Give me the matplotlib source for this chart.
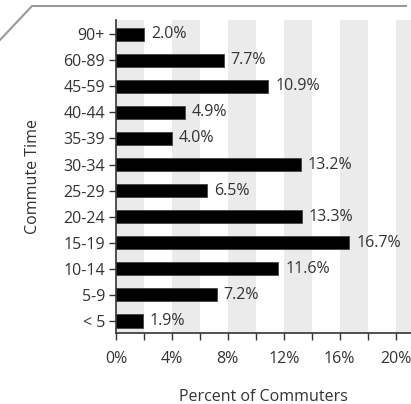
import matplotlib
matplotlib.use("Agg")
import matplotlib.pyplot as plt
from matplotlib.lines import Line2D

plt.rcParams["font.family"] = ["Open Sans", "DejaVu Sans"]

categories = ["< 5", "5-9", "10-14", "15-19", "20-24", "25-29",
              "30-34", "35-39", "40-44", "45-59", "60-89", "90+"]
percents = [1.9, 7.2, 11.6, 16.7, 13.3, 6.5, 13.2, 4.0, 4.9, 10.9, 7.7, 2.0]
x_ticks = [0, 4, 8, 12, 16, 20]

text_color = "#333333"
fs = 11.5

fig = plt.figure(figsize=(4.11, 4.04), dpi=100)
ax = fig.add_axes([116 / 411, 71 / 404, 295 / 411, 313 / 404])

# alternating background bands every 2%
for start in range(0, 22, 4):
    ax.axvspan(start, start + 2, color="#ebebeb", lw=0, zorder=0)

y = range(len(categories))
ax.barh(y, percents, height=0.5, color="black", edgecolor="#444444",
        linewidth=0.6, zorder=2)
for i, v in enumerate(percents):
    ax.annotate(f"{v:.1f}%", (v, i), xytext=(5, 0), textcoords="offset points",
                va="center", ha="left", fontsize=fs, color=text_color)

ax.set_xlim(0, 21.1)
ax.set_ylim(-0.46, 11.54)
ax.set_yticks(list(y))
ax.set_yticklabels(categories)
ax.set_xticks(range(0, 22, 2), minor=True)
ax.set_xticks(x_ticks)
ax.set_xticklabels([f"{t}%" for t in x_ticks])
ax.tick_params(axis="x", which="both", direction="out", length=5, width=1,
               color="#333333", labelsize=fs, labelcolor=text_color, pad=8)
ax.tick_params(axis="y", length=5, width=1, color="#333333",
               labelsize=fs, labelcolor=text_color, pad=3)

for side in ["top", "right"]:
    ax.spines[side].set_visible(False)
for side in ["left", "bottom"]:
    ax.spines[side].set_color("#333333")
    ax.spines[side].set_linewidth(1.2)

ax.set_xlabel("Percent of Commuters", fontsize=fs, color=text_color, labelpad=16)
ax.set_ylabel("Commute Time", fontsize=fs, color=text_color, labelpad=16)

# decorative frame line at the top
fig.add_artist(Line2D([0, 32 / 411, 406 / 411],
                      [1 - 40 / 404, 1 - 6 / 404, 1 - 6 / 404],
                      transform=fig.transFigure, color="#999999", lw=1.5))

fig.savefig("out.png", dpi=100)
